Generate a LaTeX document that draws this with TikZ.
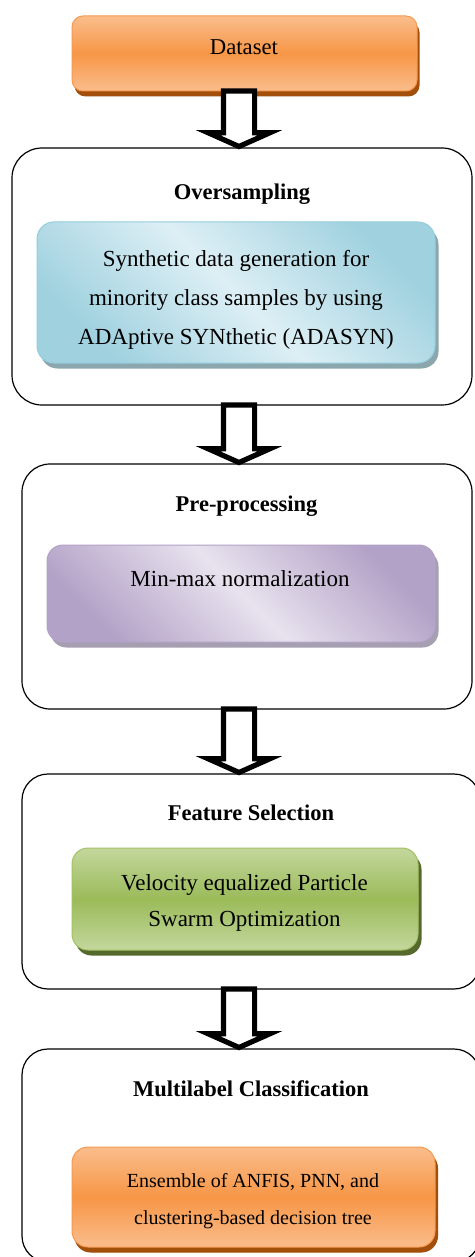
\documentclass[tikz,border=0pt]{standalone}
\usepackage{fontspec}
\setmainfont{Liberation Serif}
\usetikzlibrary{shadows,calc}

\definecolor{orMid}{HTML}{F79646}
\definecolor{orLight}{HTML}{FABD8C}
\definecolor{orEdge}{HTML}{F59A50}
\definecolor{orShadow}{HTML}{A34F0C}
\definecolor{blMid}{HTML}{9FD1DF}
\definecolor{blLight}{HTML}{DDEFF5}
\definecolor{blEdge}{HTML}{93CDDD}
\definecolor{blShadow}{HTML}{8CA6AE}
\definecolor{puMid}{HTML}{B3A2C7}
\definecolor{puLight}{HTML}{E8E2EE}
\definecolor{puEdge}{HTML}{B3A2C7}
\definecolor{puShadow}{HTML}{A69EB1}
\definecolor{grMid}{HTML}{9BBB59}
\definecolor{grLight}{HTML}{C3D79D}
\definecolor{grEdge}{HTML}{A3C163}
\definecolor{grShadow}{HTML}{56692C}

% vertical block arrow from the bottom of one node to the top of the next
\newcommand{\flowto}[2]{%
  \draw[flowarrow] let \p1=(#1.south), \p2=(#2.north), \p3=(axis) in
    (\x3-15.6pt,\y1) -- (\x3-15.6pt,\y2+15.3pt) -- (\x3-31pt,\y2+15.3pt)
    -- (\x3,\y2+1.5pt) -- (\x3+31pt,\y2+15.3pt) -- (\x3+15.6pt,\y2+15.3pt)
    -- (\x3+15.6pt,\y1) -- cycle;}

\begin{document}
\begin{tikzpicture}[x=1pt,y=-1pt,
  stage/.style={draw=black, line width=1.2pt, fill=white, inner sep=0pt, outer sep=0pt},
  panel/.style={inner sep=0pt, outer sep=0pt, line width=1pt},
  orangepanel/.style={panel, draw=orEdge, top color=orLight, bottom color=orLight, middle color=orMid,
    drop shadow={shadow xshift=2.5pt, shadow yshift=-5.5pt, fill=orShadow, opacity=1}},
  bluepanel/.style={panel, draw=blEdge, shading=axis, left color=blMid, right color=blMid, middle color=blLight,
    shading angle=-45, drop shadow={shadow xshift=3.5pt, shadow yshift=-5.5pt, fill=blShadow, opacity=1}},
  purplepanel/.style={panel, draw=puEdge, shading=axis, left color=puMid, right color=puMid, middle color=puLight,
    shading angle=-45, drop shadow={shadow xshift=3.5pt, shadow yshift=-5.5pt, fill=puShadow, opacity=1}},
  greenpanel/.style={panel, draw=grEdge, top color=grLight, bottom color=grLight, middle color=grMid,
    drop shadow={shadow xshift=3.5pt, shadow yshift=-5.5pt, fill=grShadow, opacity=1}},
  heading/.style={font=\fontsize{22.5}{27}\selectfont\bfseries, anchor=base, inner sep=0pt},
  body/.style={font=\fontsize{23}{38.7}\selectfont, align=center, inner sep=0pt},
  smallbody/.style={font=\fontsize{20}{36.7}\selectfont, align=center, inner sep=0pt},
  flowarrow/.style={draw=black, fill=white, line width=5.2pt, line join=miter, miter limit=10}
]
\useasboundingbox (0,0) rectangle (474,1257);
\coordinate (axis) at (239,0);

% outer stage frames
\node[stage, rounded corners=30pt, minimum width=460pt, minimum height=257pt] (over) at (242,276.5) {};
\node[stage, rounded corners=28pt, minimum width=450pt, minimum height=245pt] (pre) at (247,586.5) {};
\node[stage, rounded corners=26pt, minimum width=458pt, minimum height=215pt] (feat) at (251,881.5) {};
\node[stage, rounded corners=26pt, minimum width=458pt, minimum height=213pt] (multi) at (251,1155.5) {};

% input
\node[orangepanel, rounded corners=11pt, minimum width=345pt, minimum height=75pt] (data) at (244.5,53.5) {};
\node[font=\fontsize{22.7}{27}\selectfont, anchor=base, inner sep=0pt] (datatxt) at (244,55) {Dataset};

% oversampling
\node[heading] (overttl) at (242,200) {Oversampling};
\node[bluepanel, rounded corners=17pt, minimum width=398pt, minimum height=141pt] (adasyn) at (236,292.5) {};
\node[body] (adasyntxt) at (236,300) {Synthetic data generation for\\minority class samples by using\\ADAptive SYNthetic (ADASYN)};

% pre-processing
\node[heading] (prettl) at (246.5,511.7) {Pre-processing};
\node[purplepanel, rounded corners=16pt, minimum width=388pt, minimum height=97pt] (minmax) at (241,593.5) {};
\node[font=\fontsize{23}{27}\selectfont, anchor=base, inner sep=0pt] (minmaxtxt) at (240,586) {Min-max normalization};

% feature selection
\node[heading] (featttl) at (251,820.7) {Feature Selection};
\node[greenpanel, rounded corners=16pt, minimum width=346pt, minimum height=102pt] (pso) at (245,899) {};
\node[body, font=\fontsize{23}{36.7}\selectfont] (psotxt) at (244.5,903) {Velocity equalized Particle\\Swarm Optimization};

% classification
\node[heading] (multittl) at (251,1096) {Multilabel Classification};
\node[orangepanel, rounded corners=16pt, minimum width=363pt, minimum height=100pt,
  drop shadow={shadow xshift=3pt, shadow yshift=-5pt, fill=orShadow, opacity=1}] (ens) at (253.5,1197) {};
\node[smallbody] (enstxt) at (253,1201) {Ensemble of ANFIS, PNN, and\\clustering-based decision tree};

% block arrows between the stages
\flowto{data}{over}
\flowto{over}{pre}
\flowto{pre}{feat}
\flowto{feat}{multi}
\end{tikzpicture}
\end{document}
